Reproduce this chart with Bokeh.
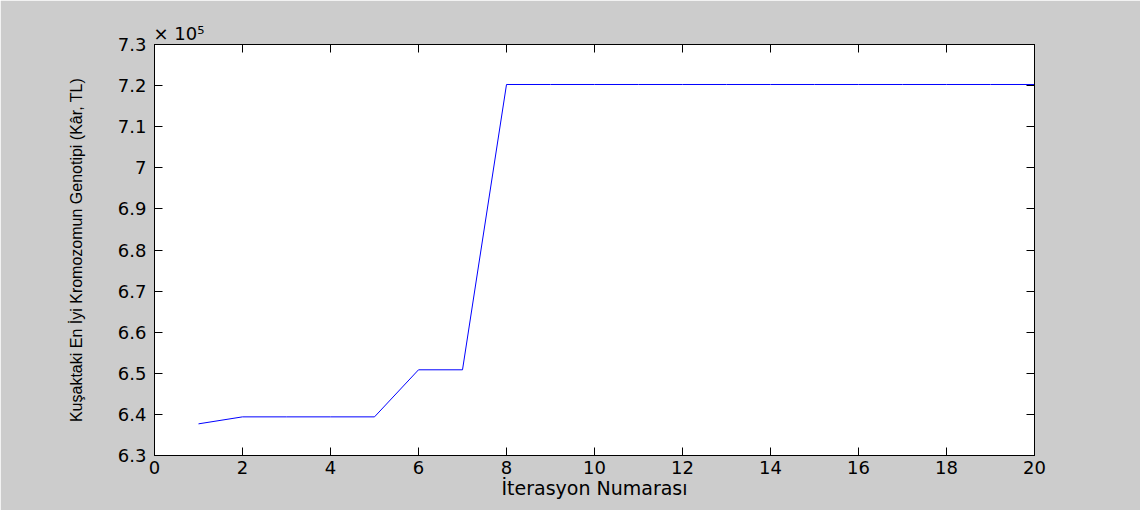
from bokeh.plotting import figure
from bokeh.models import Range1d, LinearAxis, FixedTicker, CustomJSTickFormatter
from bokeh.embed import file_html
from bokeh.resources import INLINE

# ---- data ----
iterations = [1, 2, 3, 4, 5, 6, 7, 8, 9, 10, 11, 12, 13, 14, 15, 16, 17, 18, 19, 20]
best_profit = [637700, 639400, 639400, 639400, 639400, 650850, 650850, 720270,
               720270, 720270, 720270, 720270, 720270, 720270, 720270, 720270,
               720270, 720270, 720270, 720270]
x_ticks = [0, 2, 4, 6, 8, 10, 12, 14, 16, 18, 20]
y_ticks = [630000, 640000, 650000, 660000, 670000, 680000, 690000, 700000,
           710000, 720000, 730000]
x_label = "İterasyon Numarası"
y_label = "Kuşaktaki En İyi Kromozomun Genotipi (Kâr, TL)"
scale_text = "× 10⁵"

FONT = "DejaVu Sans"

p = figure(width=1140, height=510, output_backend="svg", toolbar_location=None,
           x_range=Range1d(0, 20), y_range=Range1d(630000, 730000),
           min_border_left=154, min_border_right=106,
           min_border_top=44, min_border_bottom=55)
p.border_fill_color = "#cccccc"
p.background_fill_color = "#ffffff"
p.outline_line_color = "#000000"
p.xgrid.grid_line_color = None
p.ygrid.grid_line_color = None

p.line(iterations, best_profit, line_color="#0000ff", line_width=1)

bottom = p.below[0]
left = p.left[0]
top = LinearAxis()
right = LinearAxis()
p.add_layout(top, "above")
p.add_layout(right, "right")

for ax in [bottom, top]:
    ax.ticker = FixedTicker(ticks=x_ticks)
for ax in [left, right]:
    ax.ticker = FixedTicker(ticks=y_ticks)

bottom.formatter = CustomJSTickFormatter(code="return String(tick);")
left.formatter = CustomJSTickFormatter(code="return String(Math.round(tick / 1e4) / 10);")
top.formatter = CustomJSTickFormatter(code="return '';")
right.formatter = CustomJSTickFormatter(code="return '';")

for ax in [bottom, left, top, right]:
    ax.axis_line_color = "#000000"
    ax.axis_line_width = 1
    ax.major_tick_line_color = "#000000"
    ax.major_tick_in = 8
    ax.major_tick_out = 0
    ax.minor_tick_line_color = None
    ax.major_label_text_font = FONT
    ax.major_label_text_font_size = "18px"
    ax.major_label_text_color = "#000000"

top.major_label_text_font_size = "1px"
top.major_label_standoff = 0
right.major_label_text_font_size = "1px"
right.major_label_standoff = 0

bottom.major_label_standoff = 5
left.major_label_standoff = 8

bottom.axis_label = x_label
bottom.axis_label_text_font = FONT
bottom.axis_label_text_font_size = "19px"
bottom.axis_label_text_font_style = "normal"
bottom.axis_label_text_color = "#000000"
bottom.axis_label_standoff = 0

left.axis_label = y_label
left.axis_label_text_font = "Liberation Sans"
left.axis_label_text_font_size = "16px"
left.axis_label_text_font_style = "normal"
left.axis_label_text_color = "#000000"
left.axis_label_standoff = 30

# "× 10^5" scale factor, drawn as the title at the top left of the frame
p.title.text = scale_text
p.title.align = "left"
p.title.offset = -1
p.title.standoff = 2
p.title.text_font = FONT
p.title.text_font_size = "18px"
p.title.text_font_style = "normal"
p.title.text_color = "#000000"

open("out.html", "w").write(file_html(p, INLINE))
